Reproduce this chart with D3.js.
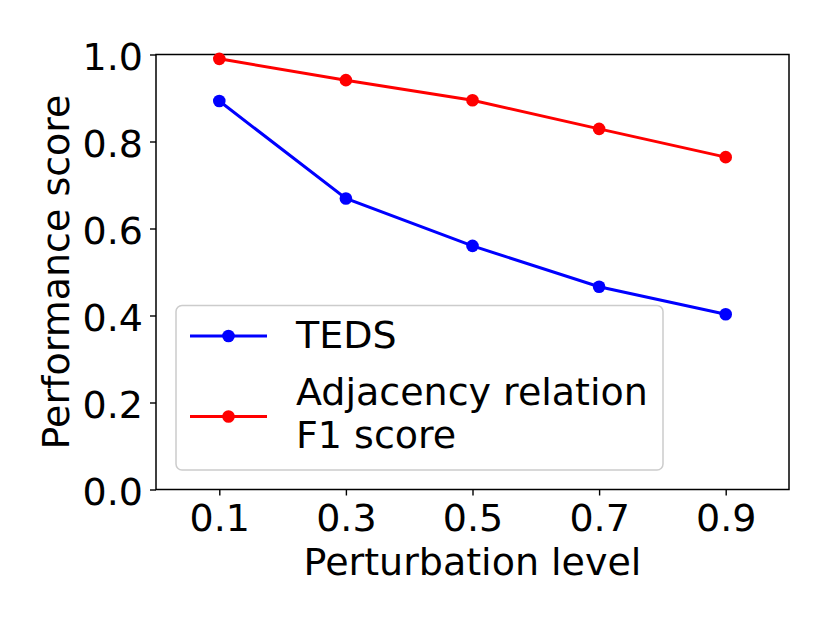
<!DOCTYPE html>
<html>
<head>
<meta charset="utf-8">
<script src="https://cdn.jsdelivr.net/npm/d3@7"></script>
<style>
  html, body { margin: 0; padding: 0; background: #fff; }
  svg { display: block; font-family: "DejaVu Sans", sans-serif; }
</style>
</head>
<body>
<svg id="chart" width="830" height="623"></svg>
<script>
// perturbation levels on the x axis
const levels = [0.1, 0.3, 0.5, 0.7, 0.9];
// series values
const tedsScores = [0.893, 0.669, 0.560, 0.466, 0.403];
const adjF1Scores = [0.990, 0.941, 0.895, 0.829, 0.764];
const yTicks = [0.0, 0.2, 0.4, 0.6, 0.8, 1.0];
const seriesNames = ["TEDS", ["Adjacency relation", "F1 score"]];
const seriesColors = ["#0000ff", "#ff0000"];

const FONT = 38;
const svg = d3.select("#chart");
const plot = { left: 156, top: 54.5, right: 789, bottom: 489.5 };

const x = d3.scaleLinear().domain([0, 1]).range([plot.left, plot.right]);
const y = d3.scaleLinear().domain([0, 1]).range([plot.bottom, plot.top]);

// axes
const xAxis = svg.append("g")
  .attr("transform", `translate(0,${plot.bottom})`)
  .call(d3.axisBottom(x).tickValues(levels).tickFormat(d3.format(".1f")).tickSize(6).tickPadding(8));
const yAxis = svg.append("g")
  .attr("transform", `translate(${plot.left},0)`)
  .call(d3.axisLeft(y).tickValues(yTicks).tickFormat(d3.format(".1f")).tickSize(6).tickPadding(7));

[xAxis, yAxis].forEach(a => {
  a.select(".domain").remove();
  a.selectAll(".tick line").attr("stroke", "#000").attr("stroke-width", 1.4);
  a.selectAll(".tick text")
    .attr("fill", "#000")
    .style("font-size", FONT + "px")
    .style("font-family", "DejaVu Sans, sans-serif");
});
xAxis.selectAll(".tick text").attr("y", 41.2).attr("dy", 0);
yAxis.selectAll(".tick text").attr("dy", "0.39em");

// frame
svg.append("rect")
  .attr("x", plot.left).attr("y", plot.top)
  .attr("width", plot.right - plot.left).attr("height", plot.bottom - plot.top)
  .attr("fill", "none").attr("stroke", "#000").attr("stroke-width", 1.5);

// axis labels
svg.append("text")
  .attr("x", (plot.left + plot.right) / 2).attr("y", 575)
  .attr("text-anchor", "middle")
  .style("font-size", FONT + "px")
  .text("Perturbation level");
svg.append("text")
  .attr("transform", `translate(68.5,${(plot.top + plot.bottom) / 2}) rotate(-90)`)
  .attr("text-anchor", "middle")
  .style("font-size", FONT + "px")
  .text("Performance score");

// lines + markers
const line = d3.line().x((d, i) => x(levels[i])).y(d => y(d));
[tedsScores, adjF1Scores].forEach((vals, k) => {
  const g = svg.append("g");
  g.append("path")
    .attr("d", line(vals))
    .attr("fill", "none")
    .attr("stroke", seriesColors[k])
    .attr("stroke-width", 3);
  g.selectAll("circle")
    .data(vals)
    .join("circle")
    .attr("cx", (d, i) => x(levels[i]))
    .attr("cy", d => y(d))
    .attr("r", 6.3)
    .attr("fill", seriesColors[k]);
});

// legend
const legend = svg.append("g");
legend.append("rect")
  .attr("x", 176).attr("y", 305.5)
  .attr("width", 487).attr("height", 164.5)
  .attr("rx", 6)
  .attr("fill", "rgba(255,255,255,0.8)")
  .attr("stroke", "#cccccc")
  .attr("stroke-width", 1.5);

const rowsY = [336, 416.5];
const baseY = [348.3, 405];
seriesNames.forEach((name, k) => {
  const ly = rowsY[k];
  legend.append("line")
    .attr("x1", 190).attr("x2", 267)
    .attr("y1", ly).attr("y2", ly)
    .attr("stroke", seriesColors[k]).attr("stroke-width", 3);
  legend.append("circle")
    .attr("cx", 228.5).attr("cy", ly).attr("r", 6.3)
    .attr("fill", seriesColors[k]);
  const lines = Array.isArray(name) ? name : [name];
  const t = legend.append("text")
    .style("font-size", FONT + "px");
  lines.forEach((s, j) => {
    t.append("tspan")
      .attr("x", 296)
      .attr("y", baseY[k] + j * 43.3)
      .text(s);
  });
});
</script>
</body>
</html>
